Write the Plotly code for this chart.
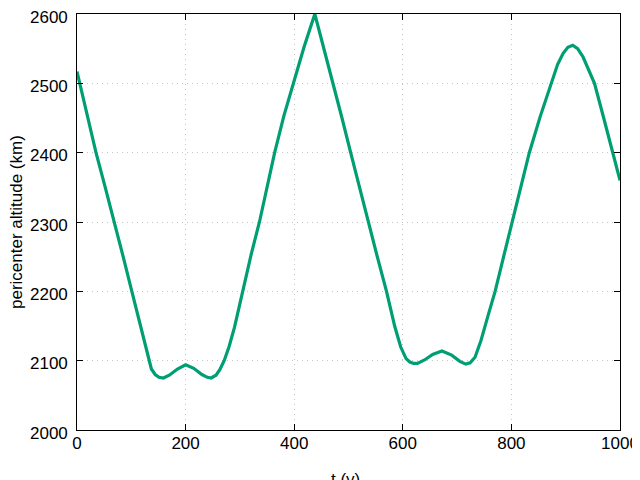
import plotly.graph_objects as go

# Values
t_years = [0, 18, 35, 52, 69, 85, 101, 110, 117, 125, 131, 137, 144, 151, 159,
           170, 185, 200, 215, 230, 240, 247, 256, 263, 271, 280, 290, 305, 321,
           336, 350, 364, 381, 398, 418, 438, 455, 472, 488, 504, 520, 537, 553,
           570, 585, 596, 606, 613, 620, 627, 640, 655, 672, 690, 705, 716, 724,
           733, 744, 757, 770, 785, 801, 817, 833, 853, 873, 885, 895, 904, 913,
           922, 932, 942, 953, 970, 987, 1000]
altitude_km = [2517, 2458, 2400, 2350, 2300, 2250, 2200, 2172, 2150, 2122, 2102, 2088, 2080, 2076, 2075,
               2079, 2088, 2094, 2089, 2080, 2076, 2075, 2079, 2087, 2100, 2120, 2148, 2200, 2254,
               2300, 2350, 2400, 2453, 2500, 2552, 2600, 2550, 2500, 2450, 2400, 2350, 2300, 2250,
               2200, 2150, 2120, 2103, 2098, 2096, 2096, 2101, 2109, 2114, 2108, 2099, 2095, 2097,
               2105, 2129, 2165, 2200, 2248, 2300, 2350, 2400, 2452, 2500, 2527, 2543, 2552, 2555,
               2550, 2538, 2521, 2500, 2450, 2400, 2360]

x_ticks = [0, 200, 400, 600, 800, 1000]
y_ticks = [2000, 2100, 2200, 2300, 2400, 2500, 2600]
x_title = "t (y)"
y_title = "pericenter altitude (km)"

fig = go.Figure()
fig.add_trace(go.Scatter(
    x=t_years, y=altitude_km, mode="lines",
    line=dict(color="#009e73", width=3.2, shape="linear"),
    showlegend=False, hoverinfo="skip",
))

font = dict(family="Liberation Sans, Arial, sans-serif", size=17, color="black")

axis_common = dict(
    showline=True, linecolor="black", linewidth=1.2, mirror="ticks",
    ticks="inside", ticklen=6, tickcolor="black", tickwidth=1.2,
    showgrid=True, gridcolor="#c4c4c4", griddash="1px,4px", gridwidth=1,
    zeroline=False, automargin=False, tickfont=font,
    ticklabeloverflow="allow",
)

fig.update_xaxes(range=[0, 1000], tickvals=x_ticks, ticktext=[str(v) for v in x_ticks],
                 ticklabelstandoff=-3, **axis_common)
fig.update_yaxes(range=[2000, 2600], tickvals=y_ticks, showticklabels=False,
                 **axis_common)

# y tick labels, placed on the y scale (gnuplot sets them a little low)
for v in y_ticks:
    fig.add_annotation(x=0, xref="paper", y=v, yref="y", text=str(v),
                       showarrow=False, xanchor="right", yanchor="middle",
                       xshift=-7, yshift=-3, font=font)

# axis titles
fig.add_annotation(x=0.5, xref="paper", y=0, yref="paper", text=x_title,
                   showarrow=False, xanchor="center", yanchor="middle",
                   yshift=-49, xshift=-3, font=font)
fig.add_annotation(x=0, xref="paper", y=0.5, yref="paper", text=y_title,
                   showarrow=False, xanchor="center", yanchor="middle",
                   textangle=-90, xshift=-61, font=font)

# The page places the figure 8 px in from the top-left corner, so the
# figure is 632x472 and its margins are set for that offset.
fig.update_layout(
    width=632, height=472,
    margin=dict(l=69, r=20, t=6, b=50),
    paper_bgcolor="white", plot_bgcolor="white",
    font=font,
)

fig.write_html("out.html")
